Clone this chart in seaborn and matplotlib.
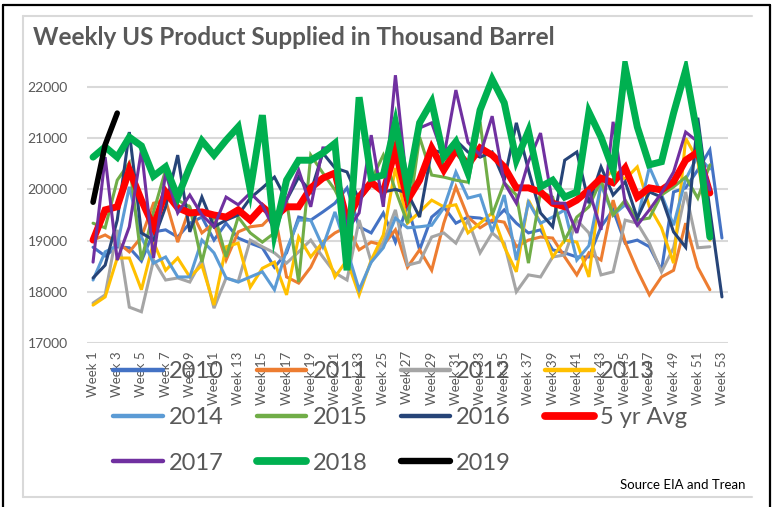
import matplotlib
matplotlib.use("Agg")
import matplotlib.pyplot as plt
from matplotlib.lines import Line2D
import seaborn as sns
import numpy as np
import pandas as pd

weeks = [f"Week {i}" for i in range(1, 54)]

y2010 = [18870, 18700, 18880, 18860, 18600, 19170, 19210, 19070, 19340, 19460, 19010,
         19340, 19050, 18950, 18860, 18480, 18760, 19460, 19400, 19560, 19730, 20030,
         19270, 19150, 19540, 18970, 19700, 18820, 19460, 19660, 19340, 19460, 19440,
         19360, 19600, 19340, 19150, 19210, 18820, 18760, 18680, 18680, 19270, 19600,
         18950, 19010, 18880, 18420, 19950, 20030, 20380, 20770, 19050]
y2011 = [19010, 19110, 18970, 18780, 19070, 19730, 19790, 18970, 19640, 19150, 19340,
         18620, 19170, 19270, 19300, 19540, 18290, 18170, 18480, 18970, 19150, 19270,
         18820, 18970, 18910, 19210, 18480, 18820, 18420, 19340, 20050, 19460, 19250,
         19400, 19360, 18880, 19010, 19070, 19050, 18680, 18330, 18760, 18620, 19790,
         18970, 18420, 17940, 18290, 18420, 19340, 18480, 18040]
y2012 = [17780, 17940, 19210, 17700, 17610, 18620, 18230, 18270, 18190, 18620, 17680,
         18270, 18200, 19010, 18880, 18760, 18560, 18780, 19010, 18680, 18370, 18230,
         19400, 18580, 18970, 19600, 18520, 18580, 19070, 19150, 18950, 19400, 18760,
         19150, 18950, 18000, 18330, 18290, 18680, 18720, 19400, 19150, 18330, 18390,
         19400, 19340, 18950, 18390, 18860, 19950, 18860, 18880]
y2013 = [17740, 17900, 18660, 18660, 18040, 18970, 18420, 18660, 18290, 18520, 17740,
         18880, 18950, 18090, 18460, 18580, 17940, 19070, 18680, 18970, 18290, 18620,
         17940, 18620, 19110, 20420, 19340, 19560, 19790, 19660, 19700, 19150, 19340,
         19540, 18880, 18390, 19790, 19340, 18680, 19010, 18970, 18290, 20150, 20380,
         20200, 20440, 19660, 19250, 18560, 21000, 20570, 19010]
y2014 = [18230, 18780, 18900, 20050, 19070, 18560, 18680, 18290, 18290, 19010, 18760,
         18270, 18190, 18290, 18390, 18040, 18820, 19400, 19400, 18880, 19560, 18820,
         18040, 18580, 18860, 19440, 19250, 19270, 19300, 19640, 20340, 19830, 19890,
         19170, 19890, 18620, 19750, 19340, 19460, 19600, 18620, 18900, 20090, 19500,
         19700, 19400, 20440, 19900, 19300, 20200, 20650, 20400]
y2015 = [19340, 19250, 20180, 20520, 18620, 19560, 20380, 19790, 19660, 18580, 19540,
         18680, 19460, 19150, 18970, 19150, 19790, 18190, 20670, 20320, 19990, 19500,
         19850, 20180, 20670, 19990, 19340, 21020, 20280, 20240, 20180, 20140, 21320,
         19500, 20130, 19890, 18560, 19950, 19850, 19010, 19460, 19660, 20180, 19500,
         19790, 19400, 19440, 19890, 20050, 20240, 19830, 20480]
y2016 = [18270, 18520, 19400, 21120, 19150, 19010, 19660, 20670, 19170, 19850, 19270,
         19400, 19500, 19830, 20030, 20240, 19790, 20240, 19950, 20710, 20420, 20340,
         19790, 20090, 19950, 20000, 19930, 19460, 20770, 20710, 20960, 20730, 20630,
         20730, 20180, 21300, 20380, 19540, 19270, 20570, 20730, 19730, 20440, 19890,
         20150, 19440, 19950, 19850, 19170, 18870, 21400, 19600, 17900]
y_avg = [19010, 19600, 19660, 20380, 19790, 19270, 19950, 19640, 19540, 19560, 19500,
         19460, 19600, 19400, 19660, 19460, 19660, 19660, 20030, 20220, 20320, 19400,
         19850, 20140, 19950, 20770, 19790, 20180, 20810, 20380, 20770, 20480, 20810,
         20670, 20440, 20030, 20030, 19950, 19730, 19660, 19790, 19990, 20220, 20130,
         20420, 19850, 20030, 19990, 20150, 20570, 20730, 19930]
y2017 = [18580, 20630, 18620, 19270, 20770, 18660, 20320, 19540, 19890, 19500, 19270,
         19850, 19700, 19930, 19700, 19200, 19790, 20380, 19660, 20810, 20810, 19200,
         19540, 21060, 19660, 22230, 19990, 21200, 21300, 20630, 21940, 20920, 20670,
         21430, 20130, 19730, 20540, 21100, 19730, 19730, 19150, 19990, 19210, 21320,
         19730, 19300, 19600, 19930, 20340, 21120, 20930, 19990]
y2018 = [20630, 20830, 20630, 21020, 20850, 20260, 20440, 19850, 20440, 20950, 20670,
         20960, 21220, 19990, 21450, 19150, 20180, 20570, 20570, 20710, 20900, 18420,
         21800, 20220, 20280, 21300, 20030, 21300, 21710, 20630, 20930, 20320, 21550,
         22150, 21690, 20570, 21140, 20050, 20180, 19850, 19950, 21510, 21020, 20380,
         22390, 21220, 20480, 20540, 21490, 22330, 21020, 19070]
y2019 = [19750, 20870, 21490]

series = [
    ("2010", y2010, "#4472C4", 2.2),
    ("2011", y2011, "#ED7D31", 2.2),
    ("2012", y2012, "#A5A5A5", 2.2),
    ("2013", y2013, "#FFC000", 2.2),
    ("2014", y2014, "#5B9BD5", 2.2),
    ("2015", y2015, "#70AD47", 2.2),
    ("2016", y2016, "#264478", 2.2),
    ("5 yr Avg", y_avg, "#FF0000", 5.0),
    ("2017", y2017, "#7030A0", 2.2),
    ("2018", y2018, "#00B050", 5.0),
    ("2019", y2019, "#000000", 4.0),
]

sns.set_style("white")
plt.rcParams["font.family"] = ["Lato", "DejaVu Sans"]

W, H = 772, 507
fig = plt.figure(figsize=(W / 100, H / 100), dpi=100)
ax = fig.add_axes([87 / W, 1 - 343 / H, (728 - 87) / W, (343 - 61.4) / H])

handles = {}
for name, vals, color, lw in series:
    df = pd.DataFrame({"week": np.arange(len(vals)), "value": vals})
    sns.lineplot(data=df, x="week", y="value", ax=ax, color=color, linewidth=lw,
                 solid_joinstyle="miter", legend=False)
    handles[name] = Line2D([0], [0], color=color, linewidth=lw + 0.6 if lw > 3 else lw + 1)

ax.set_xlim(-0.5, 52.5)
ax.set_ylim(17000, 22500)
ax.set_yticks([17000, 18000, 19000, 20000, 21000, 22000])
ax.set_yticklabels(["17000", "18000", "19000", "20000", "21000", "22000"])
ax.set_xticks(np.arange(0, 53, 2))
ax.set_xticklabels([weeks[i] for i in range(0, 53, 2)], rotation=90)
ax.tick_params(axis="y", labelsize=10, colors="#595959", length=0, pad=14)
ax.tick_params(axis="x", labelsize=9.5, colors="#595959", length=0, pad=6)
ax.set_xlabel("")
ax.set_ylabel("")
ax.grid(axis="y", color="#D9D9D9", linewidth=1.5)
ax.set_axisbelow(True)
for s in ax.spines.values():
    s.set_visible(False)

order = ["2010", "2014", "2017", "2011", "2015", "2018", "2012", "2016", "2019", "2013", "5 yr Avg"]
leg = fig.legend([handles[k] for k in order], order, loc="upper left",
                 bbox_to_anchor=(113 / W, 1 - 361 / H), ncol=4, frameon=False,
                 fontsize=17, handlelength=2.1, handletextpad=0.25,
                 columnspacing=1.42, labelspacing=1.05, borderpad=0, borderaxespad=0)
for t in leg.get_texts():
    t.set_color("#595959")

fig.text(33 / W, 1 - 38 / H, "Weekly US Product Supplied in Thousand Barrel",
         fontsize=17.5, fontweight="bold", color="#595959", va="center", ha="left")
fig.text(745 / W, 1 - 485 / H, "Source EIA and Trean", fontsize=9.5,
         color="black", va="center", ha="right")

# chart area border (light gray) and outer black frame
gray = "#D9D9D9"
fig.add_artist(Line2D([23 / W, 752 / W], [1 - 16 / H, 1 - 16 / H], color=gray, lw=1.5))
fig.add_artist(Line2D([23 / W, 23 / W], [1 - 16 / H, 1 - 497 / H], color=gray, lw=1.5))
fig.add_artist(Line2D([23 / W, 752 / W], [1 - 497 / H, 1 - 497 / H], color=gray, lw=1.5))
fig.add_artist(Line2D([3 / W, 770 / W], [1 - 5 / H, 1 - 5 / H], color="black", lw=1.6))
fig.add_artist(Line2D([3 / W, 3 / W], [1 - 5 / H, 0], color="black", lw=1.6))
fig.add_artist(Line2D([770 / W, 770 / W], [1 - 5 / H, 0], color="black", lw=1.6))

fig.savefig("out.png", dpi=100)
